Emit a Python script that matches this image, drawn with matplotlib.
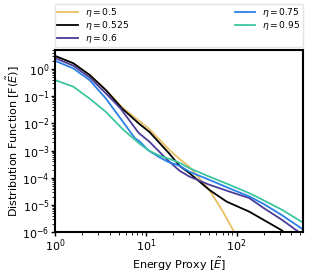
import matplotlib
matplotlib.use('Agg')
import matplotlib.pyplot as plt
import numpy as np

# valores (log10 E, log10 F)
etas = ['0.5', '0.525', '0.6', '0.75', '0.95']
colors = ['#e8bf62', '#000000', '#4a3c98', '#2a80e6', '#3cc6a0']

logE_05 = [0.0, 0.2, 0.38, 0.56, 0.74, 0.93, 1.04, 1.26, 1.37, 1.48, 1.70, 1.85, 1.96, 1.99]
logF_05 = [0.47, 0.21, -0.22, -0.77, -1.42, -1.92, -2.22, -2.98, -3.31, -3.60, -4.45, -5.25, -5.92, -6.1]

logE_0525 = [0.0, 0.2, 0.38, 0.56, 0.74, 0.92, 1.04, 1.26, 1.37, 1.48, 1.70, 1.89, 2.14, 2.49, 2.54]
logF_0525 = [0.48, 0.21, -0.22, -0.78, -1.46, -2.0, -2.32, -3.12, -3.56, -3.83, -4.45, -4.88, -5.25, -5.92, -6.05]

logE_06 = [0.0, 0.2, 0.38, 0.56, 0.72, 0.92, 1.04, 1.245, 1.37, 1.48, 1.70, 1.92, 2.14, 2.30, 2.50, 2.67, 2.70]
logF_06 = [0.40, 0.12, -0.31, -0.90, -1.45, -2.35, -2.68, -3.37, -3.74, -3.96, -4.26, -4.51, -4.75, -5.12, -5.55, -5.96, -6.05]

logE_075 = [0.0, 0.2, 0.38, 0.56, 0.72, 0.88, 0.93, 1.03, 1.15, 1.245, 1.37, 1.48, 1.70, 1.92, 2.14, 2.30, 2.50, 2.74]
logF_075 = [0.30, 0.02, -0.41, -1.09, -1.82, -2.55, -2.66, -3.0, -3.25, -3.42, -3.56, -3.78, -4.08, -4.39, -4.69, -4.97, -5.38, -5.92]

logE_095 = [0.0, 0.2, 0.38, 0.56, 0.74, 0.93, 1.03, 1.15, 1.26, 1.37, 1.48, 1.70, 1.92, 2.14, 2.25, 2.50, 2.74]
logF_095 = [-0.41, -0.65, -1.09, -1.58, -2.2, -2.75, -3.0, -3.19, -3.31, -3.45, -3.65, -3.96, -4.26, -4.57, -4.75, -5.18, -5.67]

series = [(logE_05, logF_05), (logE_0525, logF_0525), (logE_06, logF_06),
          (logE_075, logF_075), (logE_095, logF_095)]

fig = plt.figure(figsize=(3.15, 2.73), dpi=100)
ax = fig.add_axes([0.175, 0.150, 0.787, 0.667])

for (le, lf), eta, c in zip(series, etas, colors):
    ax.plot(10 ** np.array(le), 10 ** np.array(lf), color=c, lw=1.3,
            label=r'$\eta = %s$' % eta)

ax.set_xscale('log')
ax.set_yscale('log')
ax.set_xlim(1, 540)
ax.set_ylim(1e-6, 5)
ax.set_xlabel(r'Energy Proxy [$\tilde{E}$]', fontsize=8, labelpad=1)
ax.set_ylabel(r'Distribution Function [F($\tilde{E}$)]', fontsize=8, labelpad=1)
ax.tick_params(labelsize=8, width=1, length=3, pad=1)
ax.tick_params(which='minor', width=0.6, length=2)
for s in ax.spines.values():
    s.set_linewidth(1.5)

# leyenda encima de los ejes, con el borde superior fijo
ax.legend(bbox_to_anchor=(0, 1.0, 1, 0.255), loc='upper left', mode='expand',
          ncol=2, fontsize=6.6, borderaxespad=0, handlelength=2.2,
          labelspacing=0.02, borderpad=0.25, framealpha=0.8,
          edgecolor='#dddddd')

fig.savefig('out.png', dpi=100)
